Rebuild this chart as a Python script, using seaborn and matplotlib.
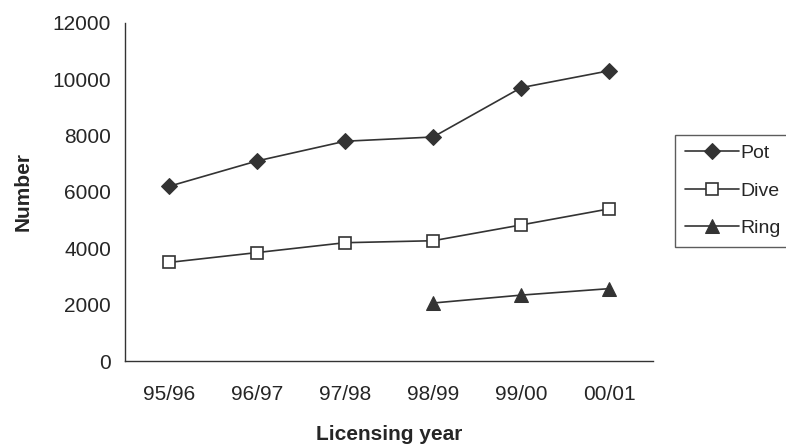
import numpy as np
import pandas as pd
import matplotlib
matplotlib.use('Agg')
import matplotlib.pyplot as plt
import seaborn as sns

# Data
years = ['95/96', '96/97', '97/98', '98/99', '99/00', '00/01']
pot = [6200, 7100, 7800, 7950, 9700, 10300]
dive = [3500, 3850, 4200, 4270, 4830, 5400]
ring = [np.nan, np.nan, np.nan, 2060, 2340, 2570]

sns.set_style('white')
plt.rcParams['font.family'] = ['Liberation Sans', 'DejaVu Sans']

df = pd.DataFrame({
    'pos': list(range(len(years))) * 3,
    'Number': pot + dive + ring,
    'series': ['Pot'] * 6 + ['Dive'] * 6 + ['Ring'] * 6,
}).dropna()

fig = plt.figure(figsize=(7.86, 4.48), dpi=100)
ax = fig.add_axes([0.159, 0.194, 0.672, 0.755])

styles = {
    'Pot': dict(marker='D', markersize=8, markerfacecolor='#333333', markeredgecolor='#333333'),
    'Dive': dict(marker='s', markersize=9, markerfacecolor='white', markeredgecolor='#333333', markeredgewidth=1.2),
    'Ring': dict(marker='^', markersize=10, markerfacecolor='#333333', markeredgecolor='#333333'),
}
for name in ['Pot', 'Dive', 'Ring']:
    sub = df[df['series'] == name]
    sns.lineplot(data=sub, x='pos', y='Number', ax=ax, color='#333333',
                 linewidth=1.2, label=name, **styles[name])

ax.set_xlim(-0.5, len(years) - 0.5)
ax.set_ylim(0, 12000)
ax.set_yticks(range(0, 12001, 2000))
ax.set_xticks(np.arange(-0.5, len(years), 1.0))
ax.set_xticklabels([])
ax.set_xticks(range(len(years)), minor=True)
ax.set_xticklabels(years, minor=True)
ax.tick_params(axis='x', which='major', direction='out', length=6, width=1, color='#333333')
ax.tick_params(axis='x', which='minor', length=0, pad=17, labelsize=15)
ax.tick_params(axis='y', direction='out', length=5, width=1, color='#333333', labelsize=15, pad=5)

for s in ['top', 'right']:
    ax.spines[s].set_visible(False)
for s in ['left', 'bottom']:
    ax.spines[s].set_color('#333333')
    ax.spines[s].set_linewidth(1)

ax.set_xlabel('Licensing year', fontsize=15, fontweight='bold', labelpad=15)
ax.set_ylabel('Number', fontsize=15, fontweight='bold', labelpad=14)

leg = ax.legend(loc='upper left', bbox_to_anchor=(1.042, 0.669), borderaxespad=0,
                frameon=True, fancybox=False, fontsize=14, handlelength=2.75,
                borderpad=0.5, labelspacing=1.02, handletextpad=0.1)
leg.get_frame().set_edgecolor('#333333')
leg.get_frame().set_linewidth(1)

fig.savefig('out.png', dpi=100)
